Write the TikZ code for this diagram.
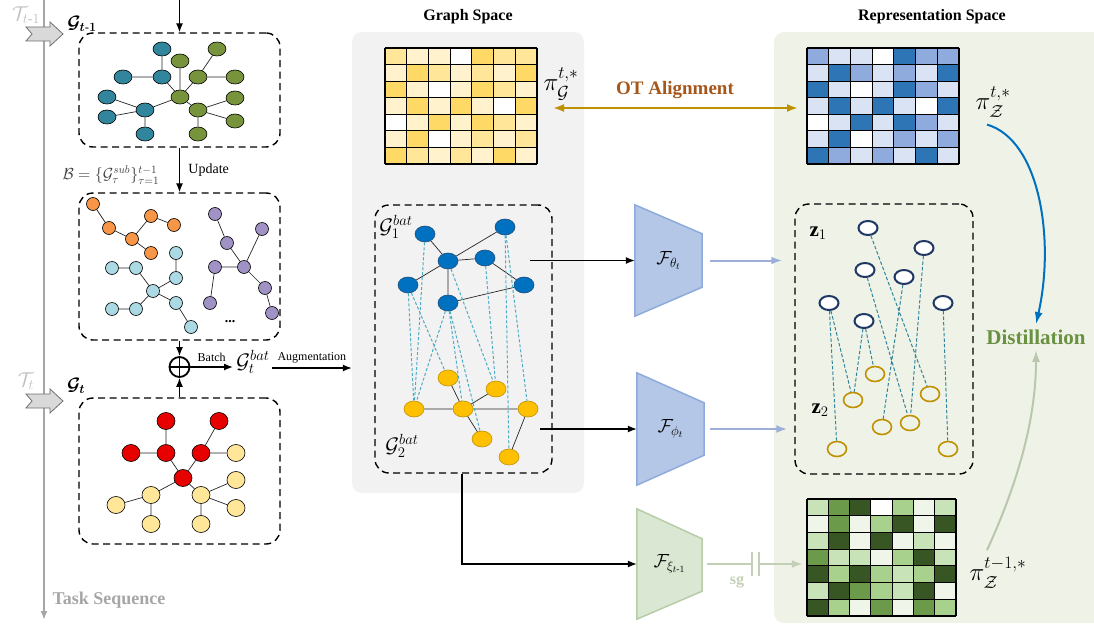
\RequirePackage{fix-cm}
\documentclass[tikz,border=0pt]{standalone}
\usepackage{amsmath}
\usepackage{fontspec}
\setmainfont{Liberation Serif}
\usetikzlibrary{arrows.meta,shapes.geometric,calc}
\definecolor{Cteal}{HTML}{31859C}
\definecolor{Cgreen}{HTML}{77933C}
\definecolor{Corange}{HTML}{F79646}
\definecolor{Clblue}{HTML}{ABDAE5}
\definecolor{Cpurple}{HTML}{A192C5}
\definecolor{Cred}{HTML}{E60000}
\definecolor{Ccream}{HTML}{FFE699}
\definecolor{Cbnode}{HTML}{0070C0}
\definecolor{Cbline}{HTML}{1F4E79}
\definecolor{Cynode}{HTML}{FFC000}
\definecolor{Cyline}{HTML}{BF9000}
\definecolor{Cnavy}{HTML}{1F3864}
\definecolor{Cgold}{HTML}{BF9000}
\definecolor{Ccyan}{HTML}{4BACC6}
\definecolor{Cdteal}{HTML}{31849B}
\definecolor{Cgpanel}{HTML}{F2F2F2}
\definecolor{Crpanel}{HTML}{EFF3E7}
\definecolor{Ctrap}{HTML}{B4C7E7}
\definecolor{Ctrapd}{HTML}{8FAADC}
\definecolor{Cparr}{HTML}{9DAEDB}
\definecolor{Cgtrap}{HTML}{DAE7D2}
\definecolor{Cgtrapd}{HTML}{B7CCA7}
\definecolor{Csg}{HTML}{C3D0B6}
\definecolor{Cot}{HTML}{BF9000}
\definecolor{Cottext}{HTML}{A5561A}
\definecolor{Cdist}{HTML}{6A9142}
\definecolor{Cblue}{HTML}{0070C0}
\definecolor{Ctask}{HTML}{A6A6A6}
\definecolor{Ctlabel}{HTML}{BFBFBF}
\definecolor{Ctaskfill}{HTML}{D9D9D9}
\definecolor{Ctaskline}{HTML}{6F6F6F}
\definecolor{Cblab}{HTML}{404040}
\definecolor{Cgcurve}{HTML}{B9C7AD}
\definecolor{Yw}{HTML}{FFFFFF}
\definecolor{Yl}{HTML}{FFF2CC}
\definecolor{Ym}{HTML}{FFE699}
\definecolor{Yd}{HTML}{FFD966}
\definecolor{Bw}{HTML}{FFFFFF}
\definecolor{Bl}{HTML}{DAE3F3}
\definecolor{Bm}{HTML}{8FAADC}
\definecolor{Bd}{HTML}{2E75B6}
\definecolor{Gw}{HTML}{FFFFFF}
\definecolor{Gv}{HTML}{EFF5E9}
\definecolor{Gl}{HTML}{C9E3B8}
\definecolor{Gm}{HTML}{A9D18E}
\definecolor{Gn}{HTML}{6A9A4A}
\definecolor{Gd}{HTML}{375623}
\newcommand{\fsz}[1]{\fontsize{#1}{#1}\selectfont}
\newcommand{\hmap}[6]{%
 \foreach \row [count=\r from 0] in {#6} {%
   \foreach \c [count=\k from 0] in \row {%
     \fill[fill=#5\c] ({#1+\k*#3},{#2+\r*#4}) rectangle ++(#3,#4);}}%
 \foreach \k in {0,...,7} {\draw[line width=1.1pt] ({#1+\k*#3},#2) -- ++(0,{7*#4});}%
 \foreach \r in {0,...,7} {\draw[line width=1.1pt] (#1,{#2+\r*#4}) -- ++({7*#3},0);}%
}
\begin{document}
\begin{tikzpicture}[x=1pt,y=-1pt,
  dbox/.style={draw, line width=1.4pt, dash pattern=on 7pt off 4.5pt, rounded corners=14pt, inner sep=0pt},
  arr/.style={line width=1.3pt, -{Latex[length=9pt,width=7pt]}},
  gnode/.style={ellipse, draw=black, line width=0.6pt, inner sep=0pt},
  s1/.style={gnode, minimum width=18pt, minimum height=14pt},
  s2/.style={circle, draw=black, line width=0.6pt, inner sep=0pt, minimum size=13pt},
  s3/.style={gnode, minimum width=18pt, minimum height=17pt},
  mb/.style={gnode, minimum width=20pt, minimum height=16pt, fill=Cbnode, draw=Cbline},
  my/.style={gnode, minimum width=20pt, minimum height=16pt, fill=Cynode, draw=Cyline},
  rn/.style={ellipse, draw=Cnavy, line width=2pt, fill=white, minimum width=19pt, minimum height=14pt, inner sep=0pt},
  rg/.style={ellipse, draw=Cgold, line width=1.6pt, minimum width=19pt, minimum height=15pt, inner sep=0pt},
  gedge/.style={line width=0.7pt, draw=black!85},
  cdash/.style={Ccyan, line width=1pt, dash pattern=on 3pt off 2pt},
  tdash/.style={Cdteal, line width=1pt, dash pattern=on 3.5pt off 2pt},
]
\useasboundingbox (0,0) rectangle (1094,626);
% panels
\node[fill=Cgpanel, rounded corners=10pt, minimum width=232pt, minimum height=461pt, inner sep=0pt] (panelG) at (468,262.5) {};
\node[fill=Crpanel, rounded corners=10pt, minimum width=330pt, minimum height=591pt, inner sep=0pt] (panelR) at (939,327.5) {};
\node[font=\bfseries\fsz{16}] (tGS) at (468,17) {Graph Space};
\node[font=\bfseries\fsz{16}] (tRS) at (932,17) {Representation Space};
% task sequence
\coordinate (ts0) at (44,0);
\coordinate (ts1) at (44,620);
\draw[Ctask, line width=2.5pt, -{Latex[length=9pt,width=7pt]}] (ts0) -- (ts1);
\node[Ctask, font=\bfseries\fsz{18}, anchor=west] (tseq) at (49,600) {Task Sequence};
\foreach \yy in {34,401} {\draw[fill=Ctaskfill, draw=Ctaskline, line width=0.8pt] (26,\yy-7) -- (50,\yy-7) -- (50,\yy-12) -- (63,\yy) -- (50,\yy+12) -- (50,\yy+7) -- (26,\yy+7) -- (32,\yy) -- cycle;}
\node[Ctlabel, font=\fsz{20}] (Tt1) at (26,15) {$\mathcal{T}_{t\text{-}1}$};
\node[Ctlabel, font=\fsz{20}] (Tt) at (26,381) {$\mathcal{T}_{t}$};
\node[font=\fsz{18}] (Gt1) at (82,24) {$\boldsymbol{\mathcal{G}_{t\text{-}1}}$};
\node[font=\fsz{18}] (Gt) at (76,386) {$\boldsymbol{\mathcal{G}_{t}}$};
% left boxes
\node[dbox, minimum width=201pt, minimum height=114pt] (box1) at (179.5,90) {};
\node[dbox, minimum width=201pt, minimum height=147pt] (box2) at (179.5,266.5) {};
\node[dbox, minimum width=201pt, minimum height=146pt] (box3) at (179.5,471) {};
\coordinate (in1) at (179.5,0);
\draw[arr] (in1) -- (box1.north);
\draw[arr] (box1.south) -- (box2.north) node[midway, right=5pt, font=\fsz{14}] (upd) {Update};
\node[Cblab, font=\fsz{16}] (Blab) at (111,175) {$\mathcal{B}=\{\mathcal{G}_\tau^{sub}\}_{\tau=1}^{t-1}$};
\node[circle, draw, line width=1.8pt, minimum size=20pt, inner sep=0pt] (oplus) at (179.5,367) {};
\draw[line width=1.8pt] (oplus.north) -- (oplus.south) (oplus.west) -- (oplus.east);
\draw[arr] (box2.south) -- (oplus.north);
\draw[arr] (box3.north) -- (oplus.south);
\node[font=\fsz{21}, inner sep=0pt] (Gtbat) at (253,362) {$\mathcal{G}_t^{bat}$};
\coordinate (bat1) at (233,367);
\draw[arr] (oplus.east) -- (bat1) node[midway, above=1pt, font=\fsz{12}] (batch) {Batch};
\coordinate (aug0) at (272,368);
\draw[arr] (aug0) -- (panelG.west |- aug0) node[midway, above=1pt, font=\fsz{12}] (augl) {Augmentation};
% box1 graph
\begin{scope}[every node/.style={s1}]
\node[fill=Cteal] (a1) at (162,49) {};
\node[fill=Cteal] (a2) at (123,77) {};
\node[fill=Cteal] (a3) at (162,77) {};
\node[fill=Cteal] (a4) at (107,97) {};
\node[fill=Cteal] (a5) at (107,117) {};
\node[fill=Cteal] (a6) at (145,110) {};
\node[fill=Cteal] (a7) at (145,134) {};
\node[fill=Cgreen] (c0) at (180,97) {};
\node[fill=Cgreen] (c1) at (180,61) {};
\node[fill=Cgreen] (c2) at (217,49) {};
\node[fill=Cgreen] (c3) at (198,77) {};
\node[fill=Cgreen] (c4) at (235,77) {};
\node[fill=Cgreen] (c5) at (235,98) {};
\node[fill=Cgreen] (c6) at (198,110) {};
\node[fill=Cgreen] (c7) at (235,121) {};
\node[fill=Cgreen] (c8) at (198,134) {};
\end{scope}
\draw[gedge] (a1)--(a3) (a2)--(a3) (a3)--(c0) (a4)--(a6) (a5)--(a6) (a6)--(a7) (a6)--(c0)
  (c1)--(c0) (c2)--(c3) (c3)--(c4) (c0)--(c3) (c0)--(c6) (c6)--(c5) (c6)--(c7) (c6)--(c8);
% box2 graphs
\begin{scope}[every node/.style={s2}]
\node[fill=Corange] (o1) at (93,204) {};
\node[fill=Corange] (o2) at (109,228) {};
\node[fill=Corange] (o3) at (151,216) {};
\node[fill=Corange] (o4) at (174,225) {};
\node[fill=Corange] (o5) at (132,239) {};
\node[fill=Corange] (o6) at (151,253) {};
\node[fill=Clblue] (l1) at (112,268) {};
\node[fill=Clblue] (l2) at (136,268) {};
\node[fill=Clblue] (l3) at (176,253) {};
\node[fill=Clblue] (l4) at (176,278) {};
\node[fill=Clblue] (l5) at (153,291) {};
\node[fill=Clblue] (l6) at (112,309) {};
\node[fill=Clblue] (l7) at (136,309) {};
\node[fill=Clblue] (l8) at (176,303) {};
\node[fill=Clblue] (l9) at (191,327) {};
\node[fill=Cpurple] (p1) at (215,214) {};
\node[fill=Cpurple] (p2) at (262,229) {};
\node[fill=Cpurple] (p3) at (227,243) {};
\node[fill=Cpurple] (p4) at (215,267) {};
\node[fill=Cpurple] (p5) at (244,267) {};
\node[fill=Cpurple] (p6) at (265,288) {};
\node[fill=Cpurple] (p7) at (210,303) {};
\node[fill=Cpurple] (p8) at (272,313) {};
\end{scope}
\draw[gedge] (o1)--(o2) (o2)--(o5) (o5)--(o3) (o3)--(o4) (o5)--(o6)
  (l1)--(l2) (l2)--(l5) (l3)--(l4) (l4)--(l5) (l5)--(l7) (l7)--(l6) (l5)--(l8) (l8)--(l9)
  (p1)--(p3) (p3)--(p5) (p2)--(p5) (p4)--(p5) (p4)--(p7) (p5)--(p6) (p6)--(p8);
\node[font=\bfseries\fsz{14}] (dots) at (230,322) {...};
% box3 graph
\begin{scope}[every node/.style={s3}]
\node[fill=Cred] (r1) at (166,421) {};
\node[fill=Cred] (r2) at (219,421) {};
\node[fill=Cred] (r3) at (131,453) {};
\node[fill=Cred] (r4) at (166,453) {};
\node[fill=Cred] (r5) at (201,453) {};
\node[fill=Cred] (r0) at (183,478) {};
\node[fill=Ccream] (k1) at (236,453) {};
\node[fill=Ccream] (k2) at (236,480) {};
\node[fill=Ccream] (k3) at (151,495) {};
\node[fill=Ccream] (k4) at (116,505) {};
\node[fill=Ccream] (k5) at (201,495) {};
\node[fill=Ccream] (k6) at (236,508) {};
\node[fill=Ccream] (k7) at (151,524) {};
\node[fill=Ccream] (k8) at (201,524) {};
\end{scope}
\draw[gedge] (r1)--(r4) (r3)--(r4) (r4)--(r0) (r2)--(r5) (r5)--(k1) (r5)--(r0) (r0)--(k3) (r0)--(k5)
  (k3)--(k4) (k3)--(k7) (k5)--(k2) (k5)--(k6) (k5)--(k8);
% heatmaps
\node[minimum width=152pt, minimum height=116pt, inner sep=0pt] (hmY) at (461,106) {};
\hmap{385}{48}{21.714}{16.571}{Y}{{m,l,l,w,d,m,m},{l,d,m,l,m,l,d},{d,l,w,l,d,m,l},{l,d,l,d,l,w,d},{w,l,d,l,d,m,l},{l,d,w,l,m,l,m},{d,m,l,m,l,d,l}}
\node[minimum width=152pt, minimum height=116pt, inner sep=0pt] (hmB) at (883,106) {};
\hmap{807}{48}{21.714}{16.571}{B}{{m,l,l,w,d,m,m},{l,d,m,l,m,l,d},{d,l,w,l,d,m,l},{l,d,l,d,l,w,d},{w,l,d,l,d,m,l},{l,d,w,l,m,l,m},{d,m,l,m,l,d,l}}
\node[minimum width=149pt, minimum height=117pt, inner sep=0pt] (hmG) at (881.5,557.5) {};
\hmap{807}{499}{21.286}{16.714}{G}{{l,n,d,w,m,v,l},{v,n,v,m,d,v,d},{l,d,v,d,v,l,v},{n,l,l,v,m,d,l},{d,m,d,m,l,m,d},{l,d,n,m,l,d,v},{d,m,v,n,v,n,m}}
\node[font=\fsz{25}] (piG) at (561,84) {$\pi_{\mathcal{G}}^{t,*}$};
\node[font=\fsz{25}] (piZ) at (993,102) {$\pi_{\mathcal{Z}}^{t,*}$};
\node[font=\fsz{25}] (piZ2) at (998,573) {$\pi_{\mathcal{Z}}^{t-1,*}$};
% OT alignment
\coordinate (otL) at (553,108);
\coordinate (otR) at (798,108);
\draw[Cot, line width=2pt, {Latex[length=11pt,width=8pt]}-{Latex[length=11pt,width=8pt]}] (otL) -- (otR);
\node[Cottext, font=\bfseries\fsz{19}] (otlab) at (675,90) {OT Alignment};
% middle graph
\node[dbox, minimum width=177pt, minimum height=268pt] (mbox) at (463.5,339) {};
\node[mb] (b1) at (425,234) {};
\node[mb] (b2) at (505,227) {};
\node[mb] (b3) at (448,261) {};
\node[mb] (b4) at (485,258) {};
\node[mb] (b5) at (408,285) {};
\node[mb] (b6) at (524,285) {};
\node[mb] (b7) at (448,303) {};
\node[my] (y1) at (448,378) {};
\node[my] (y2) at (496,389) {};
\node[my] (y3) at (414,409) {};
\node[my] (y4) at (463,409) {};
\node[my] (y5) at (528,409) {};
\node[my] (y6) at (482,439) {};
\node[my] (y7) at (509,457) {};
\draw[gedge] (b1)--(b3) (b3)--(b2) (b3)--(b4) (b3)--(b5) (b3)--(b7) (b4)--(b6) (b7)--(b6)
  (y1)--(y4) (y4)--(y2) (y3)--(y4) (y4)--(y5) (y4)--(y6) (y5)--(y7);
\draw[cdash] (b1)--(y3) (b5)--(y3) (b5)--(y1) (b7)--(y3) (b7)--(y4) (b7)--(y6) (b3)--(y2) (b4)--(y2) (b2)--(y7) (b2)--(y5);
\node[font=\fsz{21}, inner sep=0pt] (G1lab) at (396,227) {$\mathcal{G}_1^{bat}$};
\node[font=\fsz{21}, inner sep=0pt] (G2lab) at (402,446) {$\mathcal{G}_2^{bat}$};
% encoders
\node[minimum width=67pt, minimum height=111pt, inner sep=0pt] (Fth) at (668.5,260.5) {};
\draw[fill=Ctrap, draw=Ctrapd, line width=1.5pt] (Fth.north west) -- ([yshift=-29pt]Fth.north east) -- ([yshift=29pt]Fth.south east) -- (Fth.south west) -- cycle;
\node[font=\fsz{19}] (Fthl) at (Fth) {$\mathcal{F}_{\theta_t}$};
\node[minimum width=67pt, minimum height=112pt, inner sep=0pt] (Fph) at (670.5,429) {};
\draw[fill=Ctrap, draw=Ctrapd, line width=1.5pt] (Fph.north west) -- ([yshift=-30pt]Fph.north east) -- ([yshift=30pt]Fph.south east) -- (Fph.south west) -- cycle;
\node[font=\fsz{19}] (Fphl) at (Fph) {$\mathcal{F}_{\phi_t}$};
\node[minimum width=65pt, minimum height=110pt, inner sep=0pt] (Fxi) at (669.5,564) {};
\draw[fill=Cgtrap, draw=Cgtrapd, line width=1.5pt] (Fxi.north west) -- ([yshift=-30pt]Fxi.north east) -- ([yshift=28pt]Fxi.south east) -- (Fxi.south west) -- cycle;
\node[font=\fsz{19}] (Fxil) at (Fxi) {$\mathcal{F}_{\xi_{t\text{-}1}}$};
\coordinate (m1) at (530,260.5);
\coordinate (m2) at (540,429);
\draw[arr] (m1) -- (Fth.west);
\draw[arr] (m2) -- (Fph.west);
\draw[arr] ([xshift=-1.5pt]mbox.south) |- (Fxi.west);
% right box
\node[dbox, minimum width=178pt, minimum height=270pt] (rbox) at (884,339) {};
\draw[Cparr, line width=2pt, -{Latex[length=11pt,width=8pt]}] ([xshift=8pt]Fth.east) -- ([xshift=-12pt]Fth.east -| rbox.west);
\draw[Cparr, line width=2pt, -{Latex[length=11pt,width=8pt]}] ([xshift=6pt]Fph.east) -- ([xshift=-7pt]Fph.east -| rbox.west);
\node[rn] (n1) at (868,228) {};
\node[rn] (n2) at (924,248) {};
\node[rn] (n3) at (865,270) {};
\node[rn] (n4) at (904,277) {};
\node[rn] (n5) at (829,303) {};
\node[rn] (n6) at (943,303) {};
\node[rn] (n7) at (864,321) {};
\node[rg] (g1) at (875,374) {};
\node[rg] (g2) at (853,400) {};
\node[rg] (g3) at (930,394) {};
\node[rg] (g4) at (882,427) {};
\node[rg] (g5) at (910,423) {};
\node[rg] (g6) at (837,449) {};
\node[rg] (g7) at (948,449) {};
\draw[tdash] (n5)--(g6) (n5)--(g2) (n7)--(g2) (n7)--(g1) (n3)--(g5) (n1)--(g3) (n4)--(g4) (n2)--(g5) (n6)--(g7);
\node[font=\fsz{21}] (z1) at (818,233) {$\mathbf{z}_1$};
\node[font=\fsz{21}] (z2) at (820,410) {$\mathbf{z}_2$};
% stop-gradient
\coordinate (cap1) at (752,564);
\coordinate (cap2) at (759,564);
\draw[Csg, line width=2pt] ([xshift=5pt]Fxi.east) -- (cap1);
\draw[Csg, line width=2pt] ([yshift=12pt]cap1) -- ([yshift=-12pt]cap1) ([yshift=12pt]cap2) -- ([yshift=-12pt]cap2);
\draw[Csg, line width=2pt, -{Latex[length=11pt,width=8pt]}] (cap2) -- ([xshift=-4pt]cap2 -| hmG.west);
\node[Csg, font=\bfseries\fsz{16}] (sg) at (737,582) {sg};
% distillation
\node[Cdist, font=\bfseries\fsz{21}] (distill) at (1036,337) {Distillation};
\draw[Cblue, line width=2pt, -{Latex[length=12pt,width=8pt]}] ([xshift=-6pt,yshift=-4pt]piZ.south) .. controls (1040,140) and (1055,240) .. ([yshift=2pt]distill.north);
\draw[Cgcurve, line width=2pt, -{Latex[length=12pt,width=8pt]}] ([xshift=-11pt,yshift=4pt]piZ2.north) .. controls (1010,500) and (1036,430) .. ([yshift=-2pt]distill.south);
\end{tikzpicture}
\end{document}
